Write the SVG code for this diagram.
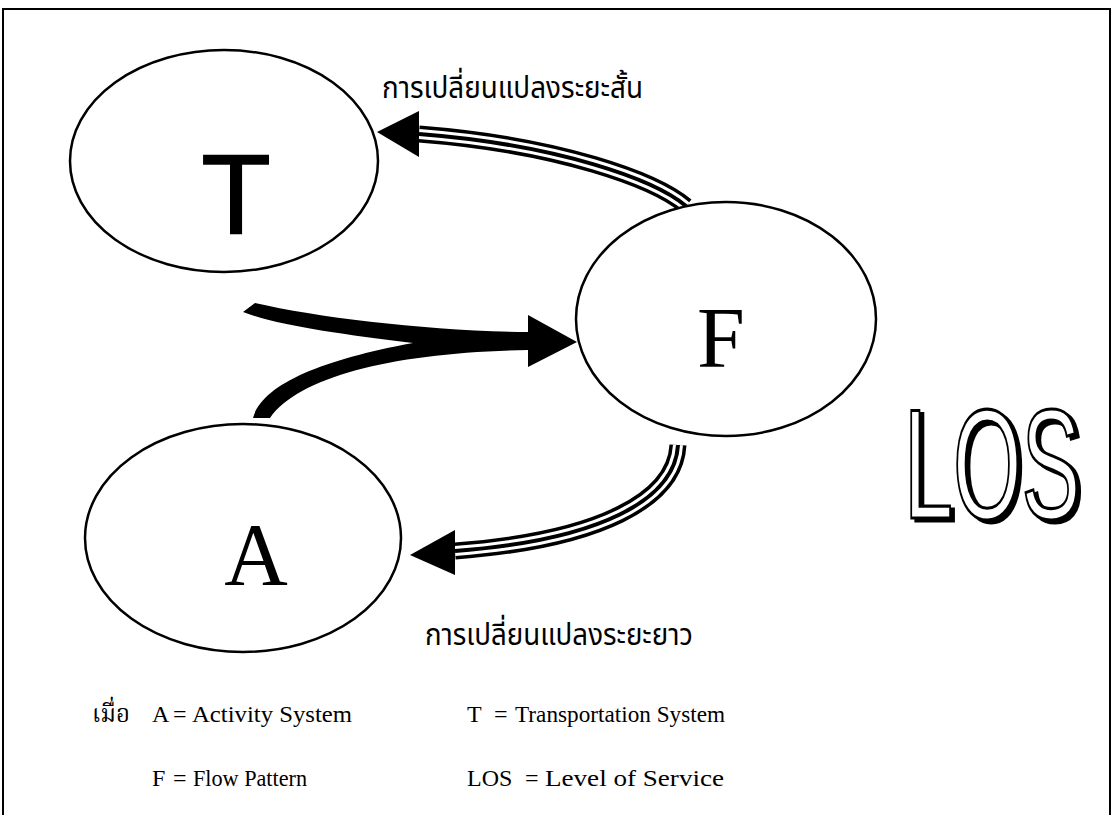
<svg xmlns="http://www.w3.org/2000/svg" width="1112" height="815" viewBox="0 0 1112 815">
  <defs>
    <style>
      .node { fill: #ffffff; stroke: #000000; stroke-width: 2.5; }
      .letter-serif { font-family: "Liberation Serif", "Times New Roman", serif; fill: #000; }
      .letter-sans { font-family: "Liberation Sans", Arial, sans-serif; fill: #000; stroke: #000; stroke-width: 1.5; }
      .thai { font-family: "Noto Sans Thai", "Noto Sans Thai UI", "Noto Sans", "DejaVu Sans", sans-serif; fill: #000; }
      .thai-serif { font-family: "Noto Serif Thai", "Noto Sans Thai", "Noto Sans", "DejaVu Sans", sans-serif; fill: #000; }
      .legend { font-family: "Liberation Serif", "Times New Roman", serif; font-size: 24px; fill: #000; }
      .triple-outer { fill: none; stroke: #000; stroke-width: 17; }
      .triple-gap { fill: none; stroke: #fff; stroke-width: 10; }
      .triple-core { fill: none; stroke: #000; stroke-width: 4; }
      .head { fill: #000; stroke: none; }
      .los { font-family: "Liberation Sans", Arial, sans-serif; font-size: 156px; fill: #fff; stroke: #000; stroke-width: 2.5; vector-effect: non-scaling-stroke; }
    </style>
    <!-- solid black drop shadow down and to the right -->
    <filter id="hard-shadow" x="-10%" y="-10%" width="130%" height="130%">
      <feOffset in="SourceAlpha" dx="4" dy="3" result="off"/>
      <feMerge>
        <feMergeNode in="off"/>
        <feMergeNode in="SourceGraphic"/>
      </feMerge>
    </filter>
  </defs>

  <rect x="0" y="0" width="1112" height="815" fill="#ffffff"/>

  <!-- outer frame, open at the bottom edge of the page -->
  <path d="M3,830 L3,9 L1110,9 L1110,830" fill="none" stroke="#000" stroke-width="2"/>

  <!-- connectors -->
  <g id="connectors">
    <!-- A and T merging into F (thick forked arrow) -->
    <path id="flow-into-F" fill="#000"
          d="M243,312 L255,303 C320,318 430,331 528,332 L528,315 L577,342 L528,367 L528,350
             C400,352 300,375 270,418 L253,418 C262,385 320,360 413,343
             C340,334 280,326 243,312 Z"/>

    <!-- F back to T : short-term change -->
    <g id="F-to-T">
      <path class="triple-outer" d="M686,206 C655,180 560,145 419,134"/>
      <path class="triple-gap" d="M686,206 C655,180 560,145 419,134"/>
      <path class="triple-core" d="M686,206 C655,180 560,145 419,134"/>
      <polygon class="head" points="419,111 377,132 419,157"/>
    </g>

    <!-- F back to A : long-term change -->
    <g id="F-to-A">
      <path class="triple-outer" d="M678,445 C675,500 600,540 455,551"/>
      <path class="triple-gap" d="M678,445 C675,500 600,540 455,551"/>
      <path class="triple-core" d="M678,445 C675,500 600,540 455,551"/>
      <polygon class="head" points="455,530 410,555 455,575"/>
    </g>
  </g>

  <!-- nodes -->
  <g id="node-T">
    <ellipse class="node" cx="224" cy="161" rx="154" ry="111"/>
    <text class="letter-sans" x="236" y="233" font-size="114" text-anchor="middle">T</text>
  </g>

  <g id="node-F">
    <ellipse class="node" cx="726" cy="319" rx="150" ry="117"/>
    <text class="letter-serif" x="721" y="367" font-size="86" text-anchor="middle">F</text>
  </g>

  <g id="node-A">
    <ellipse class="node" cx="243" cy="538" rx="158" ry="114"/>
    <text class="letter-serif" x="256" y="584" font-size="88" text-anchor="middle">A</text>
  </g>

  <!-- edge labels -->
  <text id="label-short" class="thai" x="382" y="98" font-size="30" textLength="261" lengthAdjust="spacingAndGlyphs">การเปลี่ยนแปลงระยะสั้น</text>
  <text id="label-long" class="thai" x="425" y="645" font-size="30" textLength="268" lengthAdjust="spacingAndGlyphs">การเปลี่ยนแปลงระยะยาว</text>

  <!-- outlined, shadowed LOS title (narrowed horizontally) -->
  <g id="LOS-title" filter="url(#hard-shadow)">
    <text class="los" transform="translate(904,518) scale(0.565,1)" x="0" y="0">LOS</text>
  </g>

  <!-- legend -->
  <g id="legend">
    <text class="thai-serif" x="92" y="722" font-size="24">เมื่อ</text>
    <text class="legend" x="152" y="722">A</text>
    <text class="legend" x="173" y="722">=</text>
    <text class="legend" x="192" y="722" textLength="160" lengthAdjust="spacingAndGlyphs">Activity System</text>
    <text class="legend" x="467" y="722">T</text>
    <text class="legend" x="494" y="722">=</text>
    <text class="legend" x="515" y="722" textLength="210" lengthAdjust="spacingAndGlyphs">Transportation System</text>

    <text class="legend" x="152" y="786">F</text>
    <text class="legend" x="173" y="786">=</text>
    <text class="legend" x="193" y="786" textLength="114" lengthAdjust="spacingAndGlyphs">Flow Pattern</text>
    <text class="legend" x="467" y="786">LOS</text>
    <text class="legend" x="525" y="786">=</text>
    <text class="legend" x="545" y="786" textLength="179" lengthAdjust="spacingAndGlyphs">Level of Service</text>
  </g>
</svg>
